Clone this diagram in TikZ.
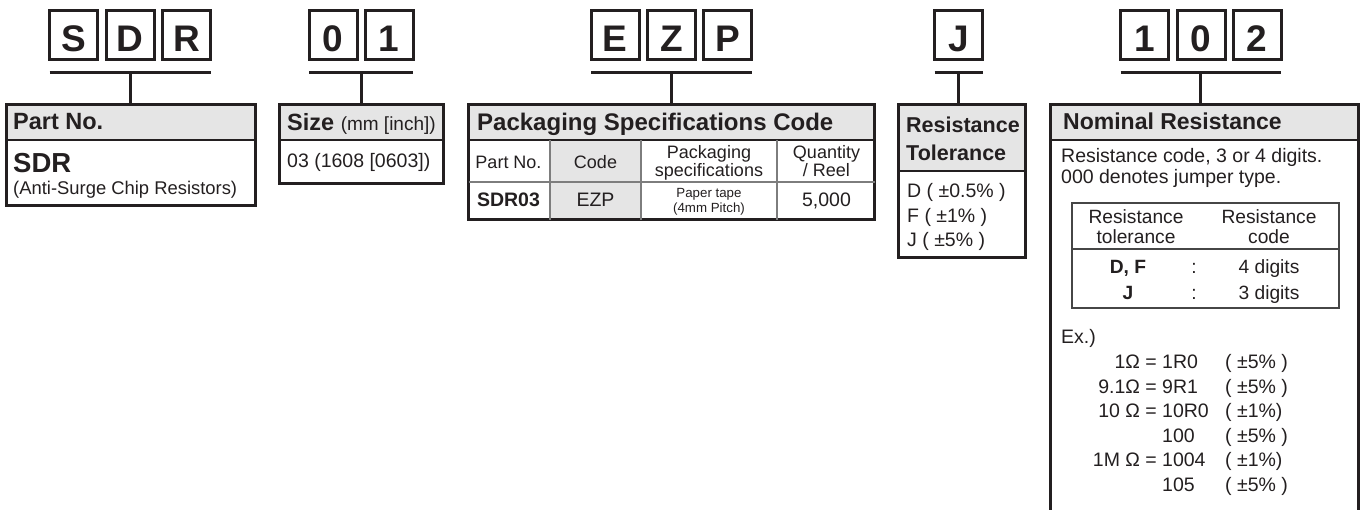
\documentclass[tikz,border=0pt]{standalone}
\usepackage{fontspec}
\setmainfont{Liberation Sans}
\usetikzlibrary{positioning,calc,backgrounds}
\definecolor{ink}{RGB}{35,31,32}
\definecolor{hdrgray}{RGB}{229,229,229}
\definecolor{rulegray}{RGB}{125,125,125}
\definecolor{tabgray}{RGB}{70,70,70}

\begin{document}
\begin{tikzpicture}[x=1pt, y=-1pt, color=ink,
    letter/.style={draw, line width=3pt, minimum width=48pt, minimum height=49pt,
      inner sep=0pt, outer sep=0pt, text height=34pt, text depth=0pt,
      font=\fontsize{37}{37}\selectfont\bfseries},
    bar/.style={line width=3pt},
    infobox/.style={draw, line width=3pt, inner sep=0pt, outer sep=0pt},
    tabbox/.style={draw=tabgray, line width=1.5pt, inner sep=0pt, outer sep=0pt},
    divider/.style={line width=1.2pt},
    grid/.style={draw=rulegray, line width=1.5pt},
    head/.style={anchor=base west, inner sep=0pt, font=\fontsize{23.5}{23.5}\selectfont\bfseries},
    txt/.style={anchor=base west, inner sep=0pt, font=\fontsize{19.5}{19.5}\selectfont},
    cell/.style={anchor=base, inner sep=0pt, font=\fontsize{18}{18}\selectfont}]

    \useasboundingbox (0,0) rectangle (1361,510);
    \clip (0,0) rectangle (1361,510);

    % code letters
    \node[letter] (S) at (73.5,35) {S};
    \node[letter, right=8.5pt of S] (D) {D};
    \node[letter, right=8.5pt of D] (R) {R};

    \node[letter] (zero) at (333,35) {0};
    \node[letter, right=8pt of zero] (one) {1};

    \node[letter] (E) at (615,35) {E};
    \node[letter, right=8.5pt of E] (Z) {Z};
    \node[letter, right=8pt of Z] (P) {P};

    \node[letter] (J) at (958.5,35) {J};

    \node[letter] (rA) at (1144.5,35) {1};
    \node[letter, right=8.5pt of rA] (rB) {0};
    \node[letter, right=8pt of rB] (rC) {2};

    % boxes
    \node[infobox, minimum width=249pt, minimum height=101pt] (partbox) at (131,155) {};
    \node[infobox, minimum width=164pt, minimum height=79pt] (sizebox) at (361.5,144) {};
    \node[infobox, minimum width=406pt, minimum height=115pt] (packbox) at (671.5,162) {};
    \node[infobox, minimum width=127pt, minimum height=153pt] (tolbox) at (962,181) {};
    \node[infobox, minimum width=308pt, minimum height=435pt] (nombox) at (1204.5,322) {};

    \begin{scope}[on background layer]
        \fill[hdrgray] (partbox.north west) rectangle (partbox.east |- 0,140);
        \fill[hdrgray] (sizebox.north west) rectangle (sizebox.east |- 0,140);
        \fill[hdrgray] (packbox.north west) rectangle (packbox.east |- 0,140);
        \fill[hdrgray] (550,140) rectangle (641,220);
        \fill[hdrgray] (tolbox.north west) rectangle (tolbox.east |- 0,171);
        \fill[hdrgray] (nombox.north west) rectangle (nombox.east |- 0,140);
    \end{scope}

    % bars and stems
    \draw[bar] ([yshift=-13.5pt]S.south west) coordinate (sdrL) -- ([yshift=-13.5pt]R.south east) coordinate (sdrR);
    \draw[bar] ([yshift=-13.5pt]zero.south west) coordinate (sizeL) -- ([yshift=-13.5pt]one.south east) coordinate (sizeR);
    \draw[bar] ([yshift=-13.5pt]E.south west) coordinate (ezpL) -- ([yshift=-13.5pt]P.south east) coordinate (ezpR);
    \draw[bar] ([yshift=-13.5pt]J.south west) coordinate (tolL) -- ([yshift=-13.5pt]J.south east) coordinate (tolR);
    \draw[bar] ([yshift=-13.5pt]rA.south west) coordinate (resL) -- ([yshift=-13.5pt]rC.south east) coordinate (resR);

    \coordinate (sdrM) at ($(sdrL)!0.5!(sdrR)$);
    \coordinate (sizeM) at ($(sizeL)!0.5!(sizeR)$);
    \coordinate (ezpM) at ($(ezpL)!0.5!(ezpR)$);
    \coordinate (tolM) at ($(tolL)!0.5!(tolR)$);
    \coordinate (resM) at ($(resL)!0.5!(resR)$);

    \draw[bar] (sdrM) -- (sdrM |- partbox.north);
    \draw[bar] (sizeM) -- (sizeM |- sizebox.north);
    \draw[bar] (ezpM) -- (ezpM |- packbox.north);
    \draw[bar] (tolM) -- (tolM |- tolbox.north);
    \draw[bar] (resM) -- (resM |- nombox.north);

    % header dividers
    \draw[divider] (partbox.west |- 0,140) -- (partbox.east |- 0,140);
    \draw[divider] (sizebox.west |- 0,140) -- (sizebox.east |- 0,140);
    \draw[divider] (packbox.west |- 0,140) -- (packbox.east |- 0,140);
    \draw[divider] (tolbox.west |- 0,171) -- (tolbox.east |- 0,171);
    \draw[divider] (nombox.west |- 0,140) -- (nombox.east |- 0,140);

    % part no.
    \node[head] (partT) at (13,130) {Part No.};
    \node[head, font=\fontsize{27.5}{27.5}\selectfont\bfseries] (partV) at (13,173) {SDR};
    \node[txt, font=\fontsize{18.4}{18.4}\selectfont] (partN) at (13,195) {(Anti-Surge Chip Resistors)};

    % size
    \node[head] (sizeT) at (287,131) {Size {\fontsize{19}{19}\selectfont\mdseries (mm [inch])}};
    \node[txt] (sizeV) at (287,168) {03 (1608 [0603])};

    % packaging
    \node[head, font=\fontsize{24}{24}\selectfont\bfseries] (packT) at (477,131) {Packaging Specifications Code};
    \draw[grid] (packbox.west |- 0,182) -- (packbox.east |- 0,182);
    \draw[grid] (550,140) -- (550,220);
    \draw[grid] (641,140) -- (641,220);
    \draw[grid] (777,140) -- (777,220);
    \node[cell] (cPart) at (508.5,168.5) {Part No.};
    \node[cell] (cCode) at (595.5,168.5) {Code};
    \node[cell] (cSpec1) at (709,158.5) {Packaging};
    \node[cell] (cSpec2) at (709,176.5) {specifications};
    \node[cell] (cQty1) at (826.5,158.5) {Quantity};
    \node[cell] (cQty2) at (826.5,176.5) {/ Reel};
    \node[cell, font=\fontsize{19.5}{19.5}\selectfont\bfseries] (vPart) at (508.5,207) {SDR03};
    \node[cell, font=\fontsize{19.5}{19.5}\selectfont] (vCode) at (595.5,207) {EZP};
    \node[cell, font=\fontsize{13.3}{13.3}\selectfont] (vSpec1) at (709,198) {Paper tape};
    \node[cell, font=\fontsize{13.3}{13.3}\selectfont] (vSpec2) at (709,213) {(4mm Pitch)};
    \node[cell, font=\fontsize{19.5}{19.5}\selectfont] (vQty) at (826.5,207) {5,000};

    % tolerance
    \node[head, font=\fontsize{21.5}{21.5}\selectfont\bfseries] (tolT1) at (906,133) {Resistance};
    \node[head, font=\fontsize{21.5}{21.5}\selectfont\bfseries] (tolT2) at (906,161) {Tolerance};
    \node[txt] (tolD) at (907,198) {D ( ±0.5\% )};
    \node[txt] (tolF) at (907,223) {F ( ±1\% )};
    \node[txt] (tolJ) at (907,247) {J ( ±5\% )};

    % nominal resistance
    \node[head, font=\fontsize{23}{23}\selectfont\bfseries] (nomT) at (1063,130) {Nominal Resistance};
    \node[txt] (nomA) at (1061,163) {Resistance code, 3 or 4 digits.};
    \node[txt] (nomB) at (1061,184) {000 denotes jumper type.};

    \node[tabbox, minimum width=267pt, minimum height=105pt] (rtab) at (1205.5,255.5) {};
    \draw[tabbox] (rtab.west |- 0,249) -- (rtab.east |- 0,249);
    \node[cell, font=\fontsize{19.2}{19.2}\selectfont] (rtH1) at (1136,224) {Resistance};
    \node[cell, font=\fontsize{19.2}{19.2}\selectfont] (rtH2) at (1136,244) {tolerance};
    \node[cell, font=\fontsize{19.2}{19.2}\selectfont] (rtH3) at (1269,224) {Resistance};
    \node[cell, font=\fontsize{19.2}{19.2}\selectfont] (rtH4) at (1269,244) {code};
    \node[cell, font=\fontsize{19.2}{19.2}\selectfont\bfseries] (rtDF) at (1128,274) {D, F};
    \node[cell, font=\fontsize{19.2}{19.2}\selectfont] (rtC1) at (1194,274) {:};
    \node[cell, font=\fontsize{19.2}{19.2}\selectfont] (rt4) at (1269,274) {4 digits};
    \node[cell, font=\fontsize{19.2}{19.2}\selectfont\bfseries] (rtJ) at (1128,300) {J};
    \node[cell, font=\fontsize{19.2}{19.2}\selectfont] (rtC2) at (1194,300) {:};
    \node[cell, font=\fontsize{19.2}{19.2}\selectfont] (rt3) at (1269,300) {3 digits};

    \node[txt] (exT) at (1061,344) {Ex.)};
    \foreach \lhs/\code/\tol [count=\i] in {1Ω =/1R0/( ±5\% ), 9.1Ω =/9R1/( ±5\% ),
        10 Ω =/10R0/( ±1\%), /100/( ±5\% ), 1M Ω =/1004/( ±1\%), /105/( ±5\% )} {
        \node[txt, anchor=base east] (exL\i) at (1157,{369+24.5*(\i-1)}) {\lhs};
        \node[txt] (exC\i) at (1162,{369+24.5*(\i-1)}) {\code};
        \node[txt] (exR\i) at (1225,{369+24.5*(\i-1)}) {\tol};
    }

\end{tikzpicture}
\end{document}
